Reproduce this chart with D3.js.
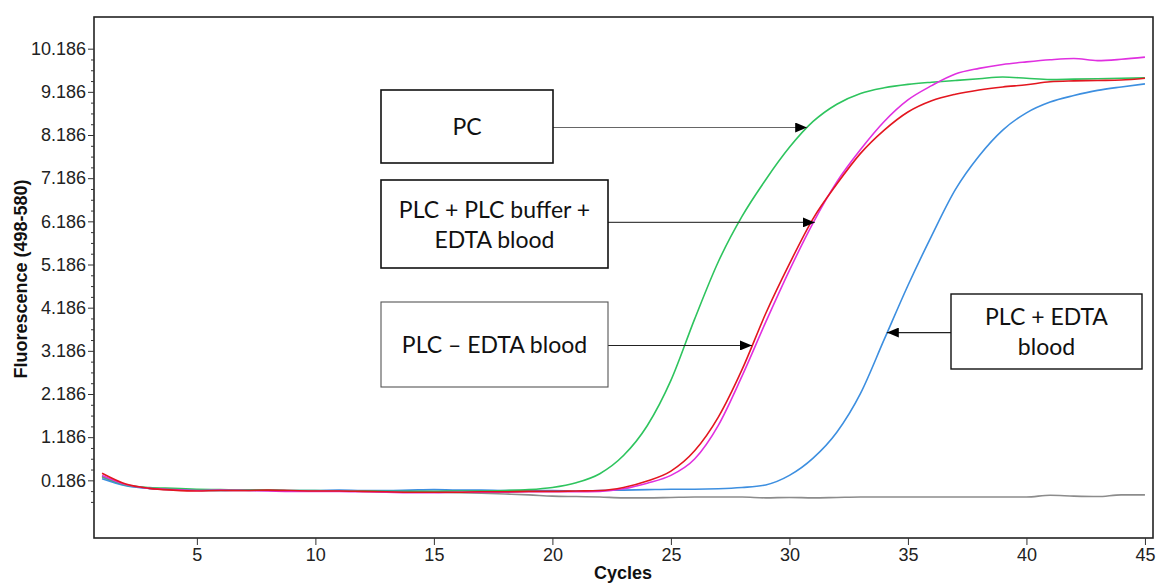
<!DOCTYPE html>
<html>
<head>
<meta charset="utf-8">
<script src="https://cdn.jsdelivr.net/npm/d3@7"></script>
<style>
  html, body { margin: 0; padding: 0; background: #fff; }
  svg { display: block; }
</style>
</head>
<body>
<svg id="chart" width="1157" height="584"></svg>
<script>
// ---------------- DATA ----------------
const cycles = d3.range(1, 46);

const yTickValues = [0.186, 1.186, 2.186, 3.186, 4.186, 5.186, 6.186, 7.186, 8.186, 9.186, 10.186];
const xTickValues = [5, 10, 15, 20, 25, 30, 35, 40, 45];

// PC (green)
const pcValues = [0.28,0.08,0.02,0.0,-0.02,-0.03,-0.04,-0.04,-0.05,-0.05,
  -0.06,-0.06,-0.07,-0.07,-0.07,-0.06,-0.06,-0.05,-0.03,0.02,
  0.13,0.34,0.76,1.45,2.5,3.92,5.25,6.3,7.15,7.9,
  8.5,8.9,9.15,9.28,9.36,9.41,9.45,9.49,9.53,9.5,
  9.47,9.48,9.49,9.5,9.51];

// PLC + PLC buffer + EDTA blood (red)
const plcBufferValues = [0.35,0.10,0.0,-0.04,-0.06,-0.05,-0.05,-0.04,-0.05,-0.06,
  -0.06,-0.07,-0.08,-0.09,-0.09,-0.09,-0.08,-0.08,-0.07,-0.07,
  -0.06,-0.05,0.02,0.17,0.4,0.87,1.65,2.75,4.05,5.2,
  6.25,7.05,7.76,8.3,8.72,8.98,9.13,9.23,9.3,9.35,
  9.42,9.44,9.45,9.46,9.5];

// PLC – EDTA blood (magenta)
const plcMinusValues = [0.3,0.09,0.0,-0.03,-0.05,-0.04,-0.05,-0.06,-0.07,-0.07,
  -0.07,-0.08,-0.09,-0.10,-0.10,-0.09,-0.09,-0.09,-0.08,-0.08,
  -0.08,-0.07,-0.01,0.12,0.3,0.68,1.46,2.6,3.85,5.05,
  6.15,7.1,7.85,8.5,9.0,9.33,9.6,9.73,9.82,9.88,
  9.93,9.96,9.91,9.94,9.99];

// PLC + EDTA blood (blue)
const plcEdtaValues = [0.22,0.06,0.0,-0.02,-0.04,-0.05,-0.04,-0.04,-0.05,-0.05,
  -0.04,-0.05,-0.05,-0.04,-0.03,-0.04,-0.04,-0.05,-0.05,-0.05,
  -0.06,-0.05,-0.04,-0.03,-0.02,-0.02,-0.01,0.02,0.08,0.3,
  0.7,1.3,2.2,3.45,4.7,5.85,6.92,7.7,8.3,8.7,
  8.95,9.1,9.22,9.3,9.37];

// negative control (gray)
const ntcValues = [0.26,0.07,0.0,-0.03,-0.04,-0.05,-0.05,-0.05,-0.06,-0.06,
  -0.06,-0.07,-0.08,-0.08,-0.09,-0.1,-0.11,-0.13,-0.15,-0.18,
  -0.19,-0.2,-0.22,-0.22,-0.21,-0.2,-0.2,-0.2,-0.22,-0.21,
  -0.22,-0.21,-0.2,-0.2,-0.2,-0.2,-0.2,-0.2,-0.2,-0.2,
  -0.16,-0.18,-0.19,-0.15,-0.15];

const seriesNames = ["NTC", "PLC + EDTA blood", "PC", "PLC – EDTA blood", "PLC + PLC buffer + EDTA blood"];
const seriesValues = [ntcValues, plcEdtaValues, pcValues, plcMinusValues, plcBufferValues];
const seriesColors = ["#8c8c8c", "#3d8fe0", "#2ec45e", "#e030e0", "#e3161f"];

// annotation labels and the point (cycle, fluorescence) each arrow points at
const annLines = [["PC"], ["PLC + PLC buffer +", "EDTA blood"], ["PLC – EDTA blood"], ["PLC + EDTA", "blood"]];
const annTipCycle = [30.75, 31.07, 28.42, 34.11];
const annTipValue = [8.36, 6.16, 3.31, 3.61];

// ---------------- LAYOUT ----------------
const svg = d3.select("#chart");
const L = 94, T = 17, R = 1153, B = 538;

const x = d3.scaleLinear().domain([0.66, 45.34]).range([L, R]);
const y = d3.scaleLinear().domain([-1.15, 10.92]).range([B, T]);

const tickFont = "'Liberation Sans', Arial, sans-serif";

// series lines
const line = d3.line().x((d, i) => x(cycles[i])).y(d => y(d)).curve(d3.curveMonotoneX);
const gLines = svg.append("g");
seriesValues.forEach((vals, k) => {
  gLines.append("path")
    .datum(vals)
    .attr("d", line)
    .attr("fill", "none")
    .attr("stroke", seriesColors[k])
    .attr("stroke-width", 1.6)
    .attr("stroke-linejoin", "round");
});

// frame
svg.append("rect")
  .attr("x", L).attr("y", T).attr("width", R - L).attr("height", B - T)
  .attr("fill", "none").attr("stroke", "#222").attr("stroke-width", 1.6);

// y axis major
const yAxis = svg.append("g").attr("transform", `translate(${L},0)`)
  .call(d3.axisLeft(y).tickValues(yTickValues).tickFormat(d3.format(".3f")).tickSize(6).tickPadding(2));
// y minor ticks
const minorVals = [];
yTickValues.forEach(v => { [0.25, 0.5, 0.75].forEach(f => minorVals.push(v - f)); });
svg.append("g").attr("transform", `translate(${L},0)`)
  .call(d3.axisLeft(y).tickValues(minorVals.filter(v => v > -0.5)).tickFormat("").tickSize(3))
  .call(g => g.select(".domain").remove())
  .selectAll("line").attr("stroke", "#333");

// x axis
const xAxis = svg.append("g").attr("transform", `translate(0,${B})`)
  .call(d3.axisBottom(x).tickValues(xTickValues).tickFormat(d3.format("d")).tickSize(7).tickPadding(3));

[yAxis, xAxis].forEach(g => {
  g.select(".domain").remove();
  g.selectAll("line").attr("stroke", "#333");
  g.selectAll("text").attr("font-family", tickFont).attr("font-size", 18).attr("fill", "#222");
});

// axis titles
svg.append("text")
  .attr("transform", "translate(27,279) rotate(-90)")
  .attr("text-anchor", "middle")
  .attr("font-family", tickFont).attr("font-weight", "bold").attr("font-size", 18)
  .attr("fill", "#111")
  .text("Fluorescence (498-580)");

svg.append("text")
  .attr("x", 623).attr("y", 579)
  .attr("text-anchor", "middle")
  .attr("font-family", tickFont).attr("font-weight", "bold").attr("font-size", 18)
  .attr("fill", "#111")
  .text("Cycles");

// ---------------- ANNOTATIONS ----------------
const defs = svg.append("defs");
defs.append("marker")
  .attr("id", "arrowHead")
  .attr("viewBox", "0 0 12 10")
  .attr("refX", 12).attr("refY", 5)
  .attr("markerWidth", 12).attr("markerHeight", 10)
  .attr("markerUnits", "userSpaceOnUse")
  .attr("orient", "auto")
  .append("path").attr("d", "M0,0 L12,5 L0,10 Z").attr("fill", "#000");

const boxes = [
  { x: 381, y: 90,  w: 172, h: 73, side: "right", stroke: "#111", sw: 1.6, arrowStroke: "#666" },
  { x: 381, y: 180, w: 227, h: 88, side: "right", stroke: "#111", sw: 1.6, arrowStroke: "#444" },
  { x: 381, y: 302, w: 227, h: 85, side: "right", stroke: "#555", sw: 1.1, arrowStroke: "#222" },
  { x: 951, y: 294, w: 191, h: 75, side: "left",  stroke: "#111", sw: 1.4, arrowStroke: "#222" }
];

const boxFont = "Lato, 'Open Sans', sans-serif";
const gAnn = svg.append("g");
boxes.forEach((b, i) => {
  const tipX = x(annTipCycle[i]);
  const tipY = y(annTipValue[i]);
  const startX = b.side === "right" ? b.x + b.w : b.x;
  gAnn.append("line")
    .attr("x1", startX).attr("y1", tipY).attr("x2", tipX).attr("y2", tipY)
    .attr("stroke", b.arrowStroke).attr("stroke-width", 1.2)
    .attr("marker-end", "url(#arrowHead)");
  gAnn.append("rect")
    .attr("x", b.x).attr("y", b.y).attr("width", b.w).attr("height", b.h)
    .attr("fill", "#fff").attr("stroke", b.stroke).attr("stroke-width", b.sw);
  const lines = annLines[i];
  const lh = 30;
  const cy = b.y + b.h / 2;
  lines.forEach((t, j) => {
    gAnn.append("text")
      .attr("x", b.x + b.w / 2)
      .attr("y", cy + 8.5 + (j - (lines.length - 1) / 2) * lh)
      .attr("text-anchor", "middle")
      .attr("font-family", boxFont).attr("font-size", 23).attr("fill", "#111")
      .text(t);
  });
});
</script>
</body>
</html>
